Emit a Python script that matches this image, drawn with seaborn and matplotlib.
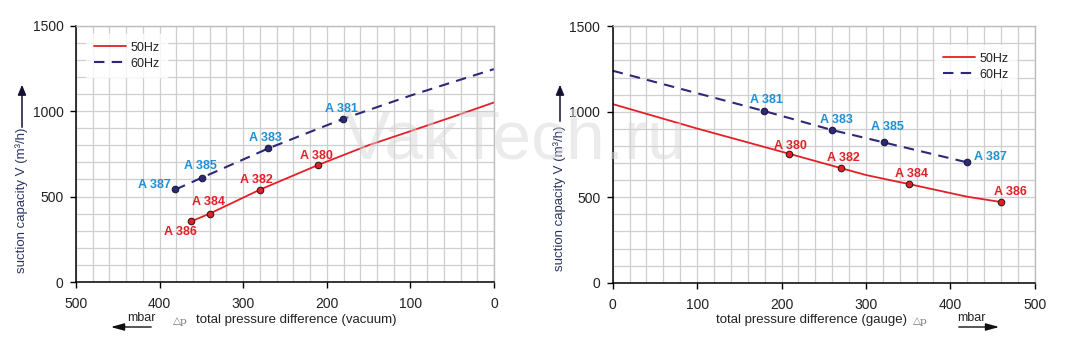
import matplotlib
matplotlib.use("Agg")
import matplotlib.pyplot as plt
import seaborn as sns
import pandas as pd
import numpy as np

# ---------------- data ----------------
# Vacuum side (left chart)
vac_50_curve_x = [362, 340, 280, 210, 150, 100, 50, 0]
vac_50_curve_y = [355, 400, 540, 685, 800, 882, 965, 1050]
vac_60_curve_x = [381, 349, 270, 181, 100, 50, 0]
vac_60_curve_y = [541, 611, 781, 953, 1090, 1168, 1245]

vac_50_models = ["A 380", "A 382", "A 384", "A 386"]
vac_50_x = [210, 280, 340, 362]
vac_50_y = [685, 540, 400, 355]
vac_60_models = ["A 381", "A 383", "A 385", "A 387"]
vac_60_x = [181, 270, 349, 381]
vac_60_y = [953, 781, 611, 541]

# Gauge (pressure) side (right chart)
gau_50_curve_x = [0, 100, 210, 270, 300, 351, 420, 460]
gau_50_curve_y = [1045, 902, 753, 671, 630, 577, 503, 472]
gau_60_curve_x = [0, 179, 260, 321, 420]
gau_60_curve_y = [1240, 1005, 893, 821, 704]

gau_50_models = ["A 380", "A 382", "A 384", "A 386"]
gau_50_x = [209, 270, 351, 460]
gau_50_y = [753, 671, 577, 472]
gau_60_models = ["A 381", "A 383", "A 385", "A 387"]
gau_60_x = [179, 260, 321, 420]
gau_60_y = [1005, 893, 821, 704]

x_ticks = [0, 100, 200, 300, 400, 500]
y_ticks = [0, 500, 1000, 1500]

# ---------------- style ----------------
sns.set_style("white")
plt.rcParams["font.family"] = ["Liberation Sans", "DejaVu Sans"]

RED = "#e32028"
NAVY = "#2c2a78"
LBLUE = "#1f8fd3"
LRED = "#e32028"
GRID = "#cfcfcf"
TXT = "#222222"

W, H = 1076, 344
fig = plt.figure(figsize=(W / 100, H / 100), dpi=100)

def px_axes(x0, x1, ytop, ybot):
    return fig.add_axes([x0 / W, 1 - ybot / H, (x1 - x0) / W, (ybot - ytop) / H])

axL = px_axes(76, 494, 25.5, 282)
axR = px_axes(612.7, 1034.7, 26.3, 282.7)

def style_axes(ax, invert):
    ax.set_xlim(500, 0) if invert else ax.set_xlim(0, 500)
    ax.set_ylim(0, 1500)
    ax.set_xticks(x_ticks)
    ax.set_yticks(y_ticks)
    ax.set_xticks(np.arange(0, 501, 20), minor=True)
    ax.set_yticks(np.arange(0, 1501, 100), minor=True)
    ax.grid(which="both", color=GRID, linewidth=0.9)
    ax.set_axisbelow(True)
    ax.tick_params(which="major", length=4, width=1, color="black", labelsize=10,
                   labelcolor=TXT, pad=5, direction="out", bottom=True, left=True)
    ax.tick_params(axis="x", which="major", pad=7)
    ax.tick_params(which="minor", length=0)
    for s in ["top", "right"]:
        ax.spines[s].set_color("#bdbdbd")
        ax.spines[s].set_linewidth(1)
    for s in ["left", "bottom"]:
        ax.spines[s].set_color("black")
        ax.spines[s].set_linewidth(1.1)
    ax.set_xlabel("")
    ax.set_ylabel("")

def draw(ax, c50x, c50y, c60x, c60y, p50x, p50y, p60x, p60y):
    d50 = pd.DataFrame({"x": c50x, "y": c50y})
    d60 = pd.DataFrame({"x": c60x, "y": c60y})
    sns.lineplot(data=d50, x="x", y="y", ax=ax, sort=False, estimator=None,
                 color=RED, linewidth=1.3, label="50Hz")
    sns.lineplot(data=d60, x="x", y="y", ax=ax, sort=False, estimator=None,
                 color=NAVY, linewidth=1.5, label="60Hz")
    ax.lines[-1].set_dashes((5, 3.5))
    sns.scatterplot(x=p50x, y=p50y, ax=ax, color=RED, edgecolor="#3a1a1a",
                    s=22, linewidth=0.8, zorder=5, legend=False)
    sns.scatterplot(x=p60x, y=p60y, ax=ax, color=NAVY, edgecolor="#1a1a3a",
                    s=22, linewidth=0.8, zorder=5, legend=False)

draw(axL, vac_50_curve_x, vac_50_curve_y, vac_60_curve_x, vac_60_curve_y,
     vac_50_x, vac_50_y, vac_60_x, vac_60_y)
draw(axR, gau_50_curve_x, gau_50_curve_y, gau_60_curve_x, gau_60_curve_y,
     gau_50_x, gau_50_y, gau_60_x, gau_60_y)
style_axes(axL, True)
style_axes(axR, False)

def annotate(ax, names, xs, ys, offs, color):
    for n, x, y, (dx, dy, ha) in zip(names, xs, ys, offs):
        ax.annotate(n, (x, y), xytext=(dx, dy), textcoords="offset pixels",
                    ha=ha, va="center", fontsize=9, fontweight="bold", color=color,
                    zorder=6)

annotate(axL, vac_50_models, vac_50_x, vac_50_y,
         [(-2, 9, "center"), (-4, 10, "center"), (-1, 12, "center"), (-11, -11, "center")], LRED)
annotate(axL, vac_60_models, vac_60_x, vac_60_y,
         [(-1, 10, "center"), (-3, 10, "center"), (-2, 12, "center"), (-5, 4, "right")], LBLUE)
annotate(axR, gau_50_models, gau_50_x, gau_50_y,
         [(1, 8, "center"), (3, 10, "center"), (3, 10, "center"), (9, 10, "center")], LRED)
annotate(axR, gau_60_models, gau_60_x, gau_60_y,
         [(3, 11, "center"), (4, 10, "center"), (4, 15, "center"), (7, 5, "left")], LBLUE)

for ax, loc, anchor in [(axL, "upper left", (0.01, 0.99)), (axR, "upper right", (0.97, 0.95))]:
    leg = ax.legend(loc=loc, bbox_to_anchor=anchor, frameon=True, fontsize=9,
                    handlelength=2.6, handletextpad=0.3, borderpad=0.6,
                    labelspacing=0.3, fancybox=False)
    leg.get_frame().set_facecolor("white")
    leg.get_frame().set_edgecolor("white")
    for t in leg.get_texts():
        t.set_color(TXT)
    leg.get_lines()[1].set_dashes((5, 3.5))

# ---------------- y labels with arrows ----------------
YLC = "#2a3560"
for xl, yc, ya0, ya1 in [(22, 200, 130, 82), (560, 198, 124, 82)]:
    fig.text(xl / W, 1 - yc / H, "suction capacity V (m³/h)", rotation=90,
             ha="center", va="center", fontsize=9.5, color=YLC)
    fig.add_artist(matplotlib.patches.FancyArrowPatch(
        (xl / W, 1 - ya0 / H), (xl / W, 1 - ya1 / H), transform=fig.transFigure,
        arrowstyle="-|>,head_length=6,head_width=2.5", color="#111133", linewidth=1.1))

# ---------------- x labels ----------------
fig.text(196 / W, 1 - 320 / H, "total pressure difference (vacuum)", ha="left",
         va="center", fontsize=9.5, color=TXT)
fig.text(180 / W, 1 - 321 / H, "△p", ha="center", va="center", fontsize=7.5,
         color="#777777", family="DejaVu Serif")
fig.text(141 / W, 1 - 318 / H, "mbar", ha="center", va="center", fontsize=9, color=TXT)
fig.add_artist(matplotlib.patches.FancyArrowPatch(
    (154 / W, 1 - 327 / H), (108 / W, 1 - 327 / H), transform=fig.transFigure,
    arrowstyle="-|>,head_length=8,head_width=2.2", color="#111111", linewidth=1.0))

fig.text(907 / W, 1 - 320 / H, "total pressure difference (gauge)", ha="right",
         va="center", fontsize=9.5, color=TXT)
fig.text(920 / W, 1 - 321 / H, "△p", ha="center", va="center", fontsize=7.5,
         color="#777777", family="DejaVu Serif")
fig.text(971 / W, 1 - 318 / H, "mbar", ha="center", va="center", fontsize=9, color=TXT)
fig.add_artist(matplotlib.patches.FancyArrowPatch(
    (956 / W, 1 - 327 / H), (1002 / W, 1 - 327 / H), transform=fig.transFigure,
    arrowstyle="-|>,head_length=8,head_width=2.2", color="#111111", linewidth=1.0))

# ---------------- watermark ----------------
fig.text(515 / W, 1 - 140 / H, "VakTech.ru", ha="center", va="center", fontsize=50,
         color="#d8d8d8", alpha=0.5, zorder=20)

fig.savefig("out.png", dpi=100)
